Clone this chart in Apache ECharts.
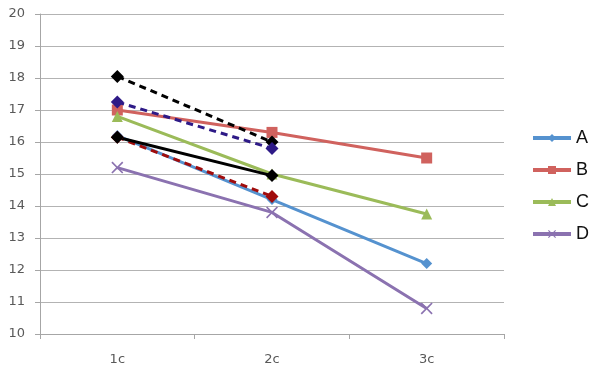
<!DOCTYPE html>
<html><head><meta charset="utf-8">
<script src="https://cdn.jsdelivr.net/npm/echarts@6/dist/echarts.min.js"></script>
<style>html,body{margin:0;padding:0;background:#fff}#c{width:598px;height:372px}</style>
</head><body><div id="c"></div>
<script>
var categories = ['1c', '2c', '3c'];
var seriesA = [16.2, 14.2, 12.2];
var seriesB = [17.0, 16.3, 15.5];
var seriesC = [16.8, 15.0, 13.75];
var seriesD = [15.2, 13.8, 10.8];
var blackDashed = [18.05, 16.0, null];
var blueDashed = [17.25, 15.8, null];
var redDashed = [16.15, 14.3, null];
var blackSolid = [16.15, 14.95, null];

var xSym = 'path://M0,1L1,0L5,4L9,0L10,1L6,5L10,9L9,10L5,6L1,10L0,9L4,5Z';
function main(name, data, color, symbol, size) {
  return {name: name, type: 'line', data: data, symbol: symbol, symbolSize: size,
    showAllSymbol: true,
    lineStyle: {color: color, width: 3}, itemStyle: {color: color}, emphasis: {disabled: true}};
}
function extra(name, data, color, dashed) {
  return {name: name, type: 'line', data: data, symbol: 'diamond', symbolSize: 13,
    lineStyle: {color: color, width: 3, type: dashed ? [7, 5] : 'solid'},
    itemStyle: {color: color}, emphasis: {disabled: true}, z: 5};
}
var chart = echarts.init(document.getElementById('c'), null, {renderer: 'canvas'});
chart.setOption({
  animation: false,
  grid: {left: 40, right: 94, top: 14, bottom: 38},
  legend: {
    data: ['A', 'B', 'C', 'D'], orient: 'vertical', left: 526, top: 124,
    itemWidth: 38, itemHeight: 10, itemGap: 14,
    lineStyle: {width: 4},
    textStyle: {fontFamily: 'Liberation Sans', fontSize: 18, color: '#111'}
  },
  xAxis: {
    type: 'category', data: categories, boundaryGap: true,
    axisLine: {lineStyle: {color: '#a6a6a6', width: 1}},
    axisTick: {show: true, alignWithLabel: false, length: 5, lineStyle: {color: '#a6a6a6'}},
    axisLabel: {margin: 19, fontFamily: 'DejaVu Sans', fontSize: 13, color: '#595959'}
  },
  yAxis: {
    type: 'value', min: 10, max: 20, interval: 1,
    axisLine: {show: true, lineStyle: {color: '#a6a6a6', width: 1}},
    axisTick: {show: true, length: 5, lineStyle: {color: '#a6a6a6'}},
    splitLine: {lineStyle: {color: '#b3b3b3', width: 1}},
    axisLabel: {margin: 15, fontFamily: 'DejaVu Sans', fontSize: 13, color: '#595959'}
  },
  series: [
    main('A', seriesA, '#5592cf', 'diamond', 11),
    main('B', seriesB, '#d0625e', 'rect', 11),
    main('C', seriesC, '#9bbb59', 'triangle', 11),
    main('D', seriesD, '#8b72b0', xSym, 12),
    extra('E', blackDashed, '#000000', true),
    extra('F', blueDashed, '#2e1a87', true),
    extra('G', redDashed, '#a00c0c', true),
    extra('H', blackSolid, '#000000', false)
  ]
});
</script></body></html>
